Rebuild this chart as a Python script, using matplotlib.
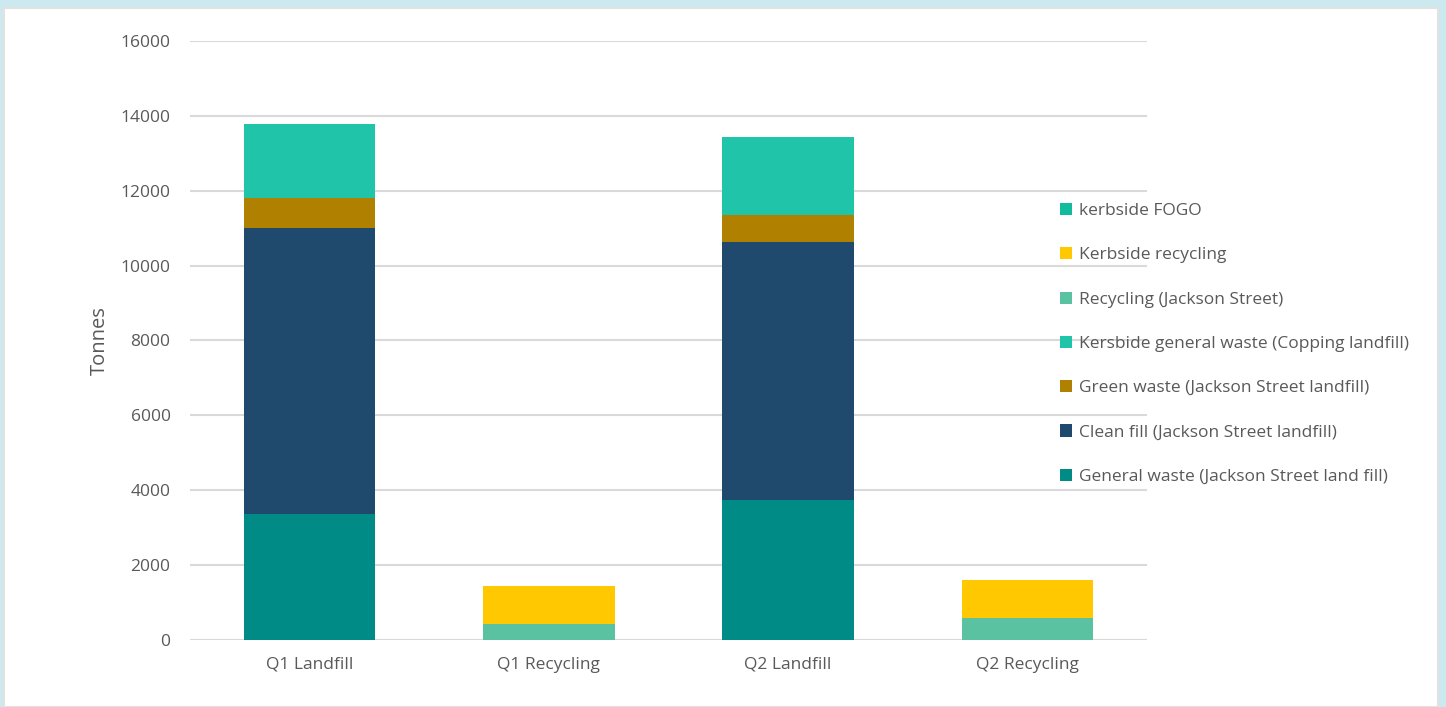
import matplotlib
matplotlib.use("Agg")
import matplotlib.pyplot as plt
from matplotlib.patches import Rectangle
import numpy as np

categories = ["Q1 Landfill", "Q1 Recycling", "Q2 Landfill", "Q2 Recycling"]

# stacked from bottom to top
series_names = [
    "General waste (Jackson Street land fill)",
    "Clean fill (Jackson Street landfill)",
    "Green waste (Jackson Street landfill)",
    "Kersbide general waste (Copping landfill)",
    "Recycling (Jackson Street)",
    "Kerbside recycling",
    "kerbside FOGO",
]
general_waste = [3365, 0, 3740, 0]
clean_fill = [7640, 0, 6890, 0]
green_waste = [800, 0, 720, 0]
kerbside_general = [1977, 0, 2085, 0]
recycling_js = [0, 427, 0, 590]
kerbside_recycling = [0, 1015, 0, 1013]
kerbside_fogo = [0, 0, 0, 0]

series_values = [general_waste, clean_fill, green_waste, kerbside_general,
                 recycling_js, kerbside_recycling, kerbside_fogo]
colors = ["#008b87", "#1f4a6e", "#b08000", "#20c4a8",
          "#5ac2a0", "#ffc800", "#10bc9c"]

plt.rcParams["font.family"] = ["Open Sans", "DejaVu Sans"]

fig = plt.figure(figsize=(14.46, 7.07), dpi=100)
fig.patch.set_facecolor("#cce9f0")
# white chart panel on the light blue page
fig.patches.append(Rectangle((4 / 1446, 0), 1434 / 1446, 699 / 707,
                             transform=fig.transFigure, facecolor="white",
                             edgecolor="#e2e2e2", linewidth=1.5, zorder=-5))

ax = fig.add_axes([190 / 1446, 1 - 640 / 707, 957 / 1446, 599 / 707])
ax.set_facecolor("none")
ax.set_zorder(2)

x = np.arange(len(categories))
bottom = np.zeros(len(categories))
handles = []
for name, vals, col in zip(series_names, series_values, colors):
    h = ax.bar(x, vals, width=0.55, bottom=bottom, color=col, label=name, zorder=3)
    handles.append(h)
    bottom += np.array(vals)

ax.set_xlim(-0.5, len(categories) - 0.5)
ax.set_ylim(0, 16000)
ax.set_yticks(range(0, 16001, 2000))
ax.grid(axis="y", color="#d9d9d9", linewidth=1.5, zorder=0)
for s in ax.spines.values():
    s.set_visible(False)
ax.tick_params(axis="both", length=0, colors="#595959", labelsize=12.5)
ax.tick_params(axis="y", pad=14)
ax.tick_params(axis="x", pad=12)
ax.set_xticks(x)
ax.set_xticklabels(categories)
ax.set_ylabel("Tonnes", fontsize=14.5, color="#595959", labelpad=8)

leg = ax.legend(handles[::-1], series_names[::-1], loc="upper left",
                bbox_to_anchor=(1060 / 1446, 1 - 203 / 707),
                bbox_transform=fig.transFigure, frameon=False,
                fontsize=12.5, labelcolor="#595959", labelspacing=1.62,
                handlelength=0.7, handleheight=0.7, handletextpad=0.4,
                borderaxespad=0, borderpad=0)

fig.savefig("out.png", dpi=100, facecolor=fig.get_facecolor())
